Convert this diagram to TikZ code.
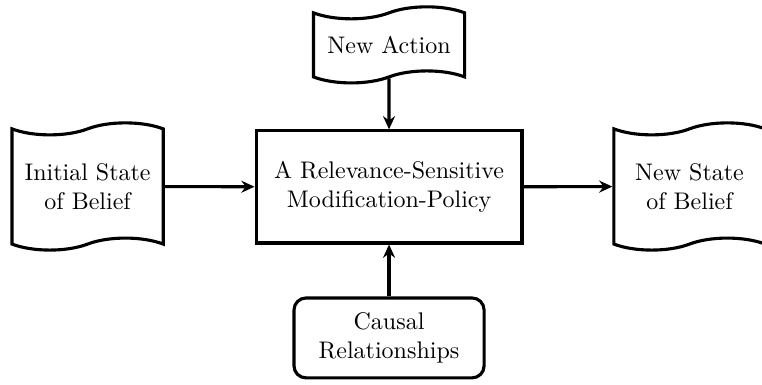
\documentclass[tikz,border=0pt]{standalone}
\usepackage{amsmath}
\usepackage{tikz}
\usepackage{xcolor}
\usetikzlibrary{shapes.symbols,arrows.meta}

\begin{document}
\begin{tikzpicture}[x=1pt,y=1pt,
  tapebox/.style={draw,line width=1.3pt,tape,align=center,minimum width=63pt,inner sep=2pt},
  policybox/.style={draw,line width=1.3pt,align=center,minimum width=110.8pt,minimum height=46.7pt},
  relbox/.style={draw,line width=1.3pt,rounded corners=5pt,align=center,minimum width=79.2pt,minimum height=33.3pt},
  flow/.style={line width=1.3pt,-{Stealth[length=5.5pt,width=5pt,inset=1.8pt]}}]

\useasboundingbox (0,0) rectangle (317.5,160.4);

\node[policybox] (policy) at (162.1,82.5) {A Relevance-Sensitive\\Modification-Policy};
\node[tapebox,minimum height=53pt] (init) at (36.5,82.7) {Initial State\\of Belief};
\node[tapebox,minimum height=53pt] (new) at (287.3,82.7) {New State\\of Belief};
\node[tapebox,minimum height=31.7pt] (action) at (162.1,141.7) {New Action};
\node[relbox] (causal) at (162.1,19.6) {Causal\\Relationships};

\draw[flow] (init) -- (policy);
\draw[flow] (policy) -- (new);
\draw[flow] (action) -- (policy);
\draw[flow] (causal) -- (policy);

\end{tikzpicture}
\end{document}
